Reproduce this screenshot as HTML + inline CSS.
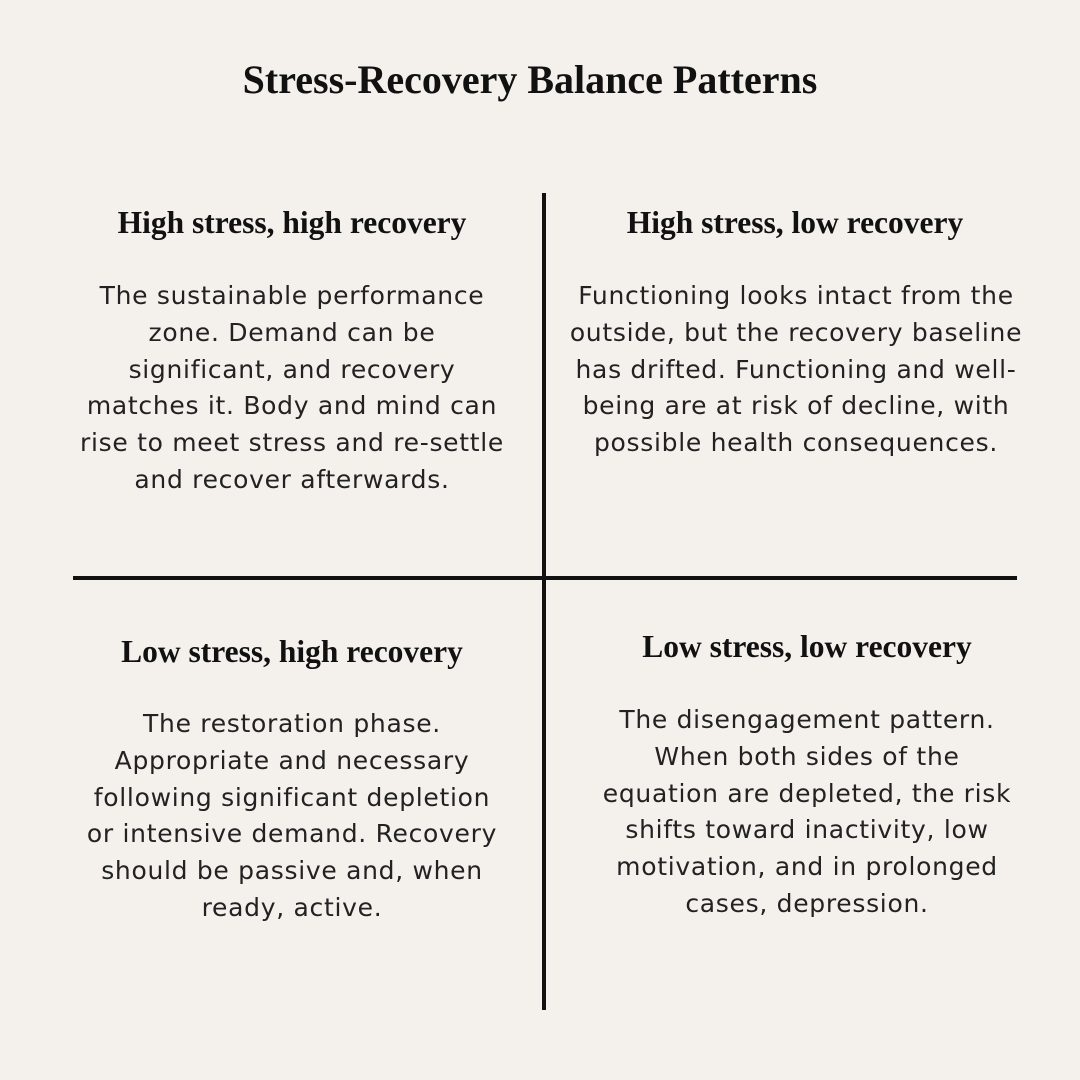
<!DOCTYPE html>
<html><head><meta charset="utf-8"><style>
body{margin:0;width:1080px;height:1080px;background:#f4f0ec;position:relative;overflow:hidden}
.t{position:absolute;font-family:"Liberation Serif",serif;font-weight:bold;color:#111;text-align:center;white-space:nowrap}
.b{position:absolute;font-family:"DejaVu Sans",sans-serif;font-size:25px;letter-spacing:0.7px;line-height:36.8px;color:#222;text-align:center;white-space:nowrap}
.l{position:absolute;background:#111}
</style></head><body>
<div class="t" style="left:0;width:1060px;top:56px;font-size:40px">Stress-Recovery Balance Patterns</div>
<div class="l" style="left:542px;top:193px;width:4px;height:817px"></div>
<div class="l" style="left:73px;top:576px;width:944px;height:4px"></div>

<div class="t" style="left:92px;width:400px;top:205px;font-size:31.5px">High stress, high recovery</div>
<div class="b" style="left:42px;width:500px;top:278px">The sustainable performance<br>zone. Demand can be<br>significant, and recovery<br>matches it. Body and mind can<br>rise to meet stress and re-settle<br>and recover afterwards.</div>

<div class="t" style="left:595px;width:400px;top:205px;font-size:31.5px">High stress, low recovery</div>
<div class="b" style="left:546px;width:500px;top:278px">Functioning looks intact from the<br>outside, but the recovery baseline<br>has drifted. Functioning and well-<br>being are at risk of decline, with<br>possible health consequences.</div>

<div class="t" style="left:92px;width:400px;top:634px;font-size:31.5px">Low stress, high recovery</div>
<div class="b" style="left:42px;width:500px;top:706px">The restoration phase.<br>Appropriate and necessary<br>following significant depletion<br>or intensive demand. Recovery<br>should be passive and, when<br>ready, active.</div>

<div class="t" style="left:607px;width:400px;top:629px;font-size:31.5px">Low stress, low recovery</div>
<div class="b" style="left:557px;width:500px;top:702px">The disengagement pattern.<br>When both sides of the<br>equation are depleted, the risk<br>shifts toward inactivity, low<br>motivation, and in prolonged<br>cases, depression.</div>
</body></html>
